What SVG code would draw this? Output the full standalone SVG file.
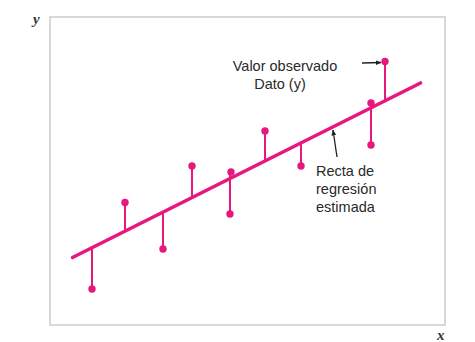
<svg xmlns="http://www.w3.org/2000/svg" width="475" height="342" viewBox="0 0 475 342">
<defs>
<style>
.frame{fill:none;stroke:#cfcfcf;stroke-width:1.6}
.reg{stroke:#e8177d;stroke-width:3.6;stroke-linecap:round;fill:none}
.stem{stroke:#e8177d;stroke-width:2;fill:none}
.dot{fill:#e8177d}
.lbl{font-family:"Liberation Sans",Arial,sans-serif;font-size:14.5px;fill:#2a2a2a}
.ax{font-family:"Liberation Serif","Times New Roman",serif;font-style:italic;font-weight:bold;font-size:15px;fill:#333}
.ptr{stroke:#222;stroke-width:1.3;fill:none}
</style>
<marker id="ah" viewBox="0 0 10 10" refX="9" refY="5" markerWidth="6" markerHeight="6" orient="auto" markerUnits="userSpaceOnUse">
<path d="M0,1 L10,5 L0,9 Z" fill="#222"/>
</marker>
</defs>
<rect width="475" height="342" fill="#fff"/>
<g id="frame">
<rect class="frame" x="50" y="17" width="395" height="308"/>
<text class="ax" x="33" y="24">y</text>
<text class="ax" x="437" y="340">x</text>
</g>
<g id="connectors">
<line class="reg" x1="72.5" y1="257.5" x2="420.5" y2="83"/>
<line class="stem" x1="92" y1="247.7" x2="92" y2="289"/>
<line class="stem" x1="125" y1="231.2" x2="125" y2="202.5"/>
<line class="stem" x1="163" y1="212.1" x2="163" y2="249"/>
<line class="stem" x1="192" y1="197.6" x2="192" y2="166"/>
<line class="stem" x1="230" y1="172" x2="230" y2="214"/>
<line class="stem" x1="265" y1="161" x2="265" y2="131"/>
<line class="stem" x1="301" y1="142.9" x2="301" y2="166"/>
<line class="stem" x1="371" y1="103" x2="371" y2="145"/>
<line class="stem" x1="385" y1="100" x2="385" y2="61.5"/>
<line class="ptr" x1="362" y1="63" x2="381" y2="62.5" marker-end="url(#ah)"/>
<line class="ptr" x1="337" y1="157" x2="333" y2="130" marker-end="url(#ah)"/>
</g>
<g id="points">
<circle class="dot" cx="92" cy="289" r="3.7"/>
<circle class="dot" cx="125" cy="202.5" r="3.7"/>
<circle class="dot" cx="163" cy="249" r="3.7"/>
<circle class="dot" cx="192" cy="166" r="3.7"/>
<circle class="dot" cx="231" cy="172" r="3.7"/>
<circle class="dot" cx="230" cy="214" r="3.7"/>
<circle class="dot" cx="265" cy="131" r="3.7"/>
<circle class="dot" cx="301" cy="166" r="3.7"/>
<circle class="dot" cx="371" cy="103" r="3.7"/>
<circle class="dot" cx="371" cy="145" r="3.7"/>
<circle class="dot" cx="385" cy="61.5" r="3.7"/>
</g>
<g id="label-observado">
<text class="lbl" x="285" y="71" text-anchor="middle">Valor observado</text>
<text class="lbl" x="280" y="89" text-anchor="middle">Dato (y)</text>
</g>
<g id="label-recta">
<text class="lbl" x="316" y="176">Recta de</text>
<text class="lbl" x="316" y="194">regresión</text>
<text class="lbl" x="316" y="212">estimada</text>
</g>
</svg>
